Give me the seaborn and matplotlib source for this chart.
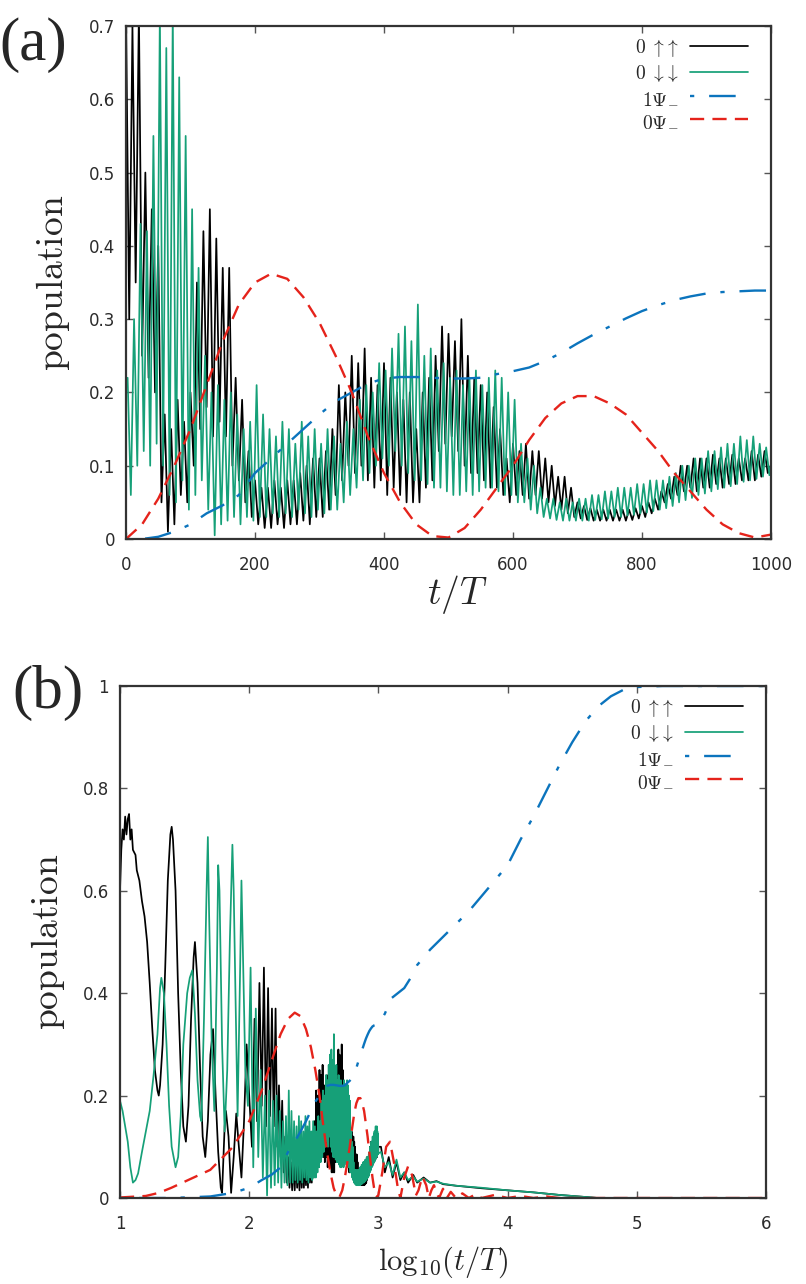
import matplotlib
matplotlib.use('Agg')
import matplotlib.pyplot as plt
import numpy as np
import seaborn as sns

sns.set_theme(style='ticks')
plt.rcParams['font.family'] = ['DejaVu Sans']
plt.rcParams['mathtext.fontset'] = 'cm'

#______________________________panel (a): linear time 0..1000______________________________
t_peak      =   np.arange(0, 1001, 10)
t_trough    =   np.arange(5, 1000, 10)
t_gpeak     =   t_peak + 2.5
t_gtrough   =   t_trough + 2.5
t_smooth    =   np.arange(0, 1001, 25)

black_peaks = [0.72, 0.70, 0.72, 0.50, 0.45, 0.40, 0.17, 0.15, 0.19, 0.16,
               0.20, 0.35, 0.42, 0.45, 0.41, 0.37, 0.37, 0.22, 0.19, 0.12,
               0.08, 0.07, 0.07, 0.08, 0.07, 0.08, 0.08, 0.09, 0.10, 0.11,
               0.11, 0.12, 0.15, 0.21, 0.20, 0.25, 0.24, 0.26, 0.22, 0.21,
               0.24, 0.22, 0.20, 0.19, 0.20, 0.15, 0.20, 0.22, 0.25, 0.29,
               0.28, 0.27, 0.30, 0.25, 0.22, 0.21, 0.20, 0.18, 0.15, 0.11,
               0.13, 0.12, 0.13, 0.12, 0.12, 0.11, 0.10, 0.085, 0.085, 0.07,
               0.05, 0.045, 0.042, 0.04, 0.04, 0.04, 0.04, 0.04, 0.04, 0.042,
               0.045, 0.05, 0.055, 0.065, 0.075, 0.085, 0.10, 0.10, 0.11, 0.11,
               0.11, 0.115, 0.11, 0.11, 0.115, 0.11, 0.11, 0.12, 0.115, 0.12,
               0.10]
black_troughs = [0.30, 0.35, 0.25, 0.22, 0.20, 0.05, 0.01, 0.02, 0.06, 0.05,
                 0.10, 0.15, 0.18, 0.14, 0.16, 0.14, 0.10, 0.08, 0.05, 0.03,
                 0.02, 0.015, 0.015, 0.02, 0.015, 0.02, 0.02, 0.025, 0.02, 0.03,
                 0.03, 0.04, 0.06, 0.08, 0.10, 0.09, 0.10, 0.08, 0.07, 0.08,
                 0.06, 0.07, 0.06, 0.05, 0.05, 0.05, 0.07, 0.08, 0.12, 0.13,
                 0.14, 0.12, 0.10, 0.09, 0.09, 0.08, 0.07, 0.07, 0.06, 0.05,
                 0.06, 0.06, 0.055, 0.06, 0.055, 0.05, 0.045, 0.04, 0.035, 0.03,
                 0.028, 0.026, 0.025, 0.025, 0.025, 0.025, 0.025, 0.025, 0.026, 0.028,
                 0.03, 0.035, 0.04, 0.05, 0.055, 0.06, 0.065, 0.07, 0.065, 0.07,
                 0.07, 0.075, 0.07, 0.075, 0.075, 0.08, 0.08, 0.08, 0.085, 0.09]
green_peaks = [0.22, 0.30, 0.43, 0.42, 0.55, 0.72, 0.67, 0.72, 0.63, 0.55,
               0.45, 0.37, 0.25, 0.20, 0.21, 0.19, 0.20, 0.17, 0.15, 0.16,
               0.21, 0.17, 0.15, 0.14, 0.16, 0.15, 0.13, 0.16, 0.14, 0.15,
               0.13, 0.15, 0.14, 0.13, 0.16, 0.15, 0.19, 0.21, 0.20, 0.24,
               0.23, 0.26, 0.28, 0.29, 0.27, 0.32, 0.25, 0.26, 0.23, 0.24,
               0.22, 0.23, 0.21, 0.22, 0.23, 0.21, 0.22, 0.23, 0.22, 0.20,
               0.19, 0.13, 0.11, 0.10, 0.07, 0.055, 0.055, 0.05, 0.055, 0.05,
               0.055, 0.055, 0.06, 0.06, 0.065, 0.065, 0.07, 0.07, 0.07, 0.075,
               0.075, 0.08, 0.08, 0.08, 0.085, 0.09, 0.10, 0.10, 0.11, 0.11,
               0.12, 0.12, 0.125, 0.13, 0.13, 0.14, 0.135, 0.14, 0.13, 0.125,
               0.12]
green_troughs = [0.06, 0.10, 0.12, 0.10, 0.13, 0.10, 0.06, 0.05, 0.08, 0.04,
                 0.06, 0.08, 0.04, 0.005, 0.02, 0.025, 0.03, 0.02, 0.03, 0.025,
                 0.03, 0.03, 0.035, 0.03, 0.035, 0.03, 0.04, 0.035, 0.03, 0.04,
                 0.035, 0.04, 0.04, 0.05, 0.06, 0.07, 0.08, 0.09, 0.10, 0.11,
                 0.10, 0.12, 0.10, 0.09, 0.08, 0.08, 0.075, 0.07, 0.07, 0.065,
                 0.06, 0.06, 0.065, 0.06, 0.065, 0.07, 0.07, 0.065, 0.06, 0.06,
                 0.05, 0.05, 0.04, 0.035, 0.03, 0.028, 0.026, 0.025, 0.025, 0.025,
                 0.025, 0.025, 0.026, 0.027, 0.028, 0.03, 0.03, 0.032, 0.033, 0.035,
                 0.036, 0.038, 0.04, 0.042, 0.045, 0.05, 0.053, 0.056, 0.06, 0.062,
                 0.065, 0.068, 0.07, 0.072, 0.075, 0.078, 0.08, 0.082, 0.085, 0.087]
blue_a = [0.0, 0.0, 0.003, 0.01, 0.02, 0.035, 0.046, 0.06, 0.09, 0.11,
          0.13, 0.15, 0.17, 0.188, 0.20, 0.212, 0.219, 0.221, 0.221, 0.22,
          0.219, 0.219, 0.22, 0.225, 0.229, 0.234, 0.243, 0.254, 0.267, 0.279,
          0.29, 0.301, 0.311, 0.319, 0.326, 0.331, 0.335, 0.337, 0.338, 0.339,
          0.339]
red_a = [0.0, 0.02, 0.055, 0.10, 0.15, 0.21, 0.27, 0.32, 0.35, 0.362,
         0.355, 0.33, 0.295, 0.25, 0.20, 0.14, 0.09, 0.05, 0.02, 0.004,
         0.002, 0.015, 0.04, 0.07, 0.10, 0.135, 0.165, 0.185, 0.195, 0.195,
         0.185, 0.17, 0.145, 0.12, 0.09, 0.065, 0.04, 0.02, 0.008, 0.002,
         0.006]

#______________________________panel (b): log10 time, extra pieces______________________________
b_black_low_x = [1.00, 1.01, 1.02, 1.03, 1.04, 1.05, 1.06, 1.07, 1.08, 1.09, 1.10,
                 1.12, 1.13, 1.15, 1.17, 1.19, 1.21, 1.23, 1.25, 1.27, 1.29,
                 1.30, 1.31, 1.33, 1.35, 1.37, 1.39, 1.40, 1.41, 1.43, 1.45, 1.47, 1.49,
                 1.51, 1.53, 1.55, 1.57, 1.58, 1.60, 1.62, 1.64, 1.66, 1.68,
                 1.70, 1.72, 1.74, 1.76, 1.78, 1.79, 1.81, 1.82, 1.84, 1.86, 1.88,
                 1.90, 1.92, 1.94, 1.96, 1.98]
b_black_low = [0.60, 0.68, 0.72, 0.70, 0.745, 0.71, 0.74, 0.75, 0.70, 0.72, 0.68,
               0.67, 0.64, 0.62, 0.58, 0.55, 0.50, 0.42, 0.33, 0.25, 0.21,
               0.20, 0.22, 0.30, 0.45, 0.62, 0.71, 0.725, 0.70, 0.60, 0.40, 0.25, 0.14,
               0.11, 0.18, 0.35, 0.47, 0.50, 0.42, 0.25, 0.12, 0.08, 0.15,
               0.28, 0.33, 0.20, 0.09, 0.02, 0.01, 0.14, 0.17, 0.12, 0.01, 0.08,
               0.165, 0.10, 0.04, 0.15, 0.30]
b_green_low_x = [1.00, 1.02, 1.04, 1.06, 1.08, 1.10, 1.12, 1.14, 1.17, 1.20, 1.23, 1.26, 1.29,
                 1.31, 1.32, 1.34, 1.36, 1.38, 1.40, 1.43, 1.45, 1.47, 1.49,
                 1.52, 1.54, 1.56, 1.58, 1.60, 1.62, 1.63, 1.65, 1.67, 1.68, 1.69,
                 1.71, 1.73, 1.75, 1.76, 1.77, 1.79, 1.81, 1.83, 1.85, 1.87, 1.88,
                 1.90, 1.91, 1.93, 1.94, 1.95, 1.97, 1.99]
b_green_low = [0.19, 0.17, 0.14, 0.11, 0.06, 0.03, 0.035, 0.048, 0.09, 0.13, 0.17, 0.24, 0.32,
               0.41, 0.43, 0.40, 0.30, 0.18, 0.10, 0.06, 0.08, 0.16, 0.30,
               0.40, 0.43, 0.445, 0.36, 0.23, 0.16, 0.15, 0.35, 0.60, 0.705, 0.55,
               0.30, 0.17, 0.45, 0.65, 0.60, 0.30, 0.13, 0.25, 0.50, 0.69, 0.60,
               0.30, 0.16, 0.45, 0.62, 0.50, 0.25, 0.18]
b_tail_x = [3.02, 3.05, 3.08, 3.11, 3.14, 3.17, 3.20, 3.23, 3.27, 3.30,
            3.35, 3.40, 3.45, 3.50, 3.60, 3.80, 4.00, 4.20, 4.40, 4.60,
            4.70, 5.00, 6.00]
b_black_tail = [0.10, 0.05, 0.08, 0.04, 0.07, 0.035, 0.05, 0.03, 0.045, 0.03,
                0.04, 0.03, 0.033, 0.027, 0.024, 0.019, 0.015, 0.011, 0.006, 0.002,
                0.0, 0.0, 0.0]
b_green_tail = [0.09, 0.06, 0.07, 0.045, 0.075, 0.04, 0.05, 0.035, 0.042, 0.032,
                0.038, 0.03, 0.032, 0.028, 0.024, 0.02, 0.015, 0.011, 0.006, 0.002,
                0.0, 0.0, 0.0]
b_blue_low_x = [1.0, 1.2]
b_blue_low = [0.0, 0.0]
b_blue_tail_x = [3.05, 3.10, 3.15, 3.20, 3.25, 3.30, 3.40, 3.50, 3.60, 3.70,
                 3.80, 3.90, 4.00, 4.10, 4.20, 4.30, 4.40, 4.50, 4.60, 4.70,
                 4.80, 4.90, 5.00, 5.20, 5.50, 6.00]
b_blue_tail = [0.36, 0.39, 0.40, 0.41, 0.43, 0.455, 0.485, 0.51, 0.535, 0.56,
               0.59, 0.62, 0.65, 0.70, 0.745, 0.795, 0.845, 0.89, 0.93, 0.96,
               0.98, 0.993, 0.998, 1.0, 1.0, 1.0]
b_red_low_x = [1.0, 1.2, 1.3]
b_red_low = [0.001, 0.004, 0.01]
b_red_tail_x = [3.03, 3.06, 3.09, 3.12, 3.15, 3.17, 3.20, 3.23, 3.26, 3.29,
                3.31, 3.34, 3.37, 3.39, 3.41, 3.43, 3.45, 3.47, 3.50, 3.53,
                3.56, 3.60, 3.65, 3.70, 3.75, 3.80, 3.90, 4.00, 4.10, 4.20,
                4.30, 4.40, 5.00, 6.00]
b_red_tail = [0.05, 0.10, 0.11, 0.07, 0.02, 0.0, 0.04, 0.062, 0.045, 0.005,
              0.015, 0.042, 0.025, 0.0, 0.015, 0.025, 0.01, 0.0, 0.018, 0.0,
              0.012, 0.0, 0.009, 0.0, 0.007, 0.0, 0.006, 0.0, 0.004, 0.0,
              0.003, 0.0, 0.0, 0.0]

labels = [r'$0\ \uparrow\!\uparrow$', r'$0\ \downarrow\!\downarrow$', r'$1\Psi_{-}$', r'$0\Psi_{-}$']
colors = ['#000000', '#16a078', '#0b74bd', '#e5231b']
styles = ['-', '-', (0, (1.8, 6.3, 11.25, 6.3)), (0, (6, 3.5))]
widths = [1.25, 1.25, 1.7, 1.7]


def zigzag(t_hi, hi, t_lo, lo):
    t = np.concatenate([t_hi, t_lo])
    v = np.concatenate([hi, lo])
    order = np.argsort(t)
    return t[order], v[order]


tb, vb = zigzag(t_peak, black_peaks, t_trough, black_troughs)
tg, vg = zigzag(t_gpeak, green_peaks, t_gtrough, green_troughs)
blue_a = np.array(blue_a)
red_a = np.array(red_a)

# panel (b) series: own low-t part, then the t>=100 part of (a) on log axis, then own tail
bx_black = np.concatenate([b_black_low_x, np.log10(tb[tb >= 100]), b_tail_x])
by_black = np.concatenate([b_black_low, vb[tb >= 100], b_black_tail])
keep_g = (tg >= 100) & (tg <= 1000)
bx_green = np.concatenate([b_green_low_x, np.log10(tg[keep_g]), b_tail_x])
by_green = np.concatenate([b_green_low, vg[keep_g], b_green_tail])
bx_blue = np.concatenate([b_blue_low_x, np.log10(t_smooth[t_smooth >= 25]), b_blue_tail_x])
by_blue = np.concatenate([b_blue_low, blue_a[t_smooth >= 25], b_blue_tail])
bx_red = np.concatenate([b_red_low_x, np.log10(t_smooth[t_smooth >= 25]), b_red_tail_x])
by_red = np.concatenate([b_red_low, red_a[t_smooth >= 25], b_red_tail])

series_a = [(tb, vb), (tg, vg), (t_smooth, blue_a), (t_smooth, red_a)]
series_b = [(bx_black, by_black), (bx_green, by_green), (bx_blue, by_blue), (bx_red, by_red)]

fig = plt.figure(figsize=(8.06, 12.84), dpi=100)
ax_a = fig.add_axes([126/806, 1-539/1284, 645/806, 513/1284])
ax_b = fig.add_axes([120/806, 1-1198/1284, 646/806, 512/1284])


def draw(ax, series):
    for (x, y), lab, c, ls, lw in zip(series, labels, colors, styles, widths):
        sns.lineplot(x=x, y=y, ax=ax, color=c, linestyle=ls, lw=lw, label=lab,
                     estimator=None, sort=False)


def style(ax):
    ax.tick_params(direction='in', length=5, width=1, top=True, right=True,
                   labelsize=12, color='#555555', labelcolor='#2b2b2b')
    ax.tick_params(axis='x', pad=12)
    ax.tick_params(axis='y', pad=8)
    for s in ax.spines.values():
        s.set_linewidth(1.6)
        s.set_color('#333333')


def legend(ax, anchor):
    ax.legend(loc='upper right', bbox_to_anchor=anchor, frameon=False, markerfirst=False,
              fontsize=14, handlelength=3.0, handletextpad=0.55, labelspacing=0.2,
              borderpad=0, borderaxespad=0)


draw(ax_a, series_a)
ax_a.set_xlim(0, 1000)
ax_a.set_ylim(0, 0.7)
ax_a.set_xticks([0, 200, 400, 600, 800, 1000])
ax_a.set_yticks([0, 0.1, 0.2, 0.3, 0.4, 0.5, 0.6, 0.7])
ax_a.set_yticklabels(['0', '0.1', '0.2', '0.3', '0.4', '0.5', '0.6', '0.7'])
ax_a.set_xlabel(r'$t/T$', fontsize=27, va='center')
ax_a.xaxis.set_label_coords(0.513, -0.109)
ax_a.set_ylabel(r'$\mathrm{population}$', fontsize=27, va='center')
ax_a.yaxis.set_label_coords(-0.113, 0.5)
style(ax_a)
legend(ax_a, (0.9643, 0.9786))

draw(ax_b, series_b)
ax_b.set_xlim(1, 6)
ax_b.set_ylim(0, 1)
ax_b.set_xticks([1, 2, 3, 4, 5, 6])
ax_b.set_yticks([0, 0.2, 0.4, 0.6, 0.8, 1.0])
ax_b.set_yticklabels(['0', '0.2', '0.4', '0.6', '0.8', '1'])
ax_b.set_xlabel(r'$\mathrm{log}_{10}(t/T)$', fontsize=22, va='center')
ax_b.xaxis.set_label_coords(0.5, -0.125)
ax_b.set_ylabel(r'$\mathrm{population}$', fontsize=27, va='center')
ax_b.yaxis.set_label_coords(-0.111, 0.5)
style(ax_b)
legend(ax_b, (0.9644, 0.9785))

fig.text(33/806, 1-45/1284, '(a)', ha='center', va='center', fontsize=44, family='Liberation Serif')
fig.text(48/806, 1-693/1284, '(b)', ha='center', va='center', fontsize=44, family='Liberation Serif')

fig.savefig('out.png', dpi=100)
